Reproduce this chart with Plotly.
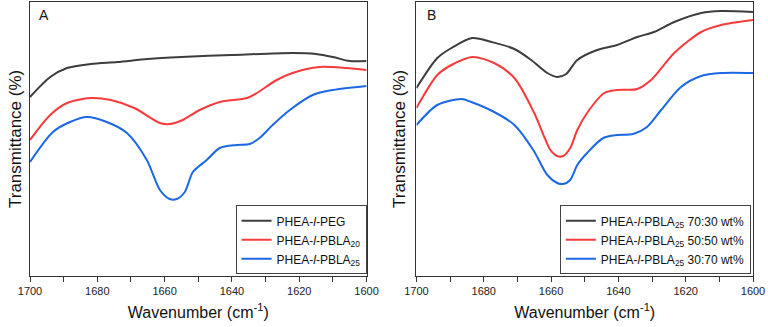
import plotly.graph_objects as go
from plotly.subplots import make_subplots

# panel A
wn_a_peg = [1700, 1694, 1689, 1682, 1674, 1665, 1655, 1640, 1622, 1615, 1610, 1605, 1600]
t_a_peg = [179, 199, 208, 212, 214, 217, 219, 221, 223, 222, 219, 215, 215]

wn_a_20 = [1700, 1694, 1689, 1682, 1676, 1669, 1661.4, 1658.5, 1654.6, 1649.6, 1643.6,
           1635.6, 1632.6, 1626.7, 1622, 1614, 1606, 1600]
t_a_20 = [136, 161, 173, 178, 176, 168, 153, 152, 156, 166, 174, 178, 183, 196, 203, 209, 208, 206]

wn_a_25 = [1700, 1693.2, 1688.1, 1683.1, 1677.2, 1671.2, 1665.3, 1661.4, 1658.5, 1656.4, 1654,
           1651.6, 1647.5, 1643.6, 1638.6, 1634.7, 1631.8, 1627.9, 1622.8, 1616, 1610, 1600]
t_a_25 = [114, 144, 154, 159, 154, 143, 116, 86, 77, 77, 84, 104, 116, 128, 131, 132, 138,
          151, 166, 181, 186, 190]

# panel B
wn_b_7030 = [1700, 1693.8, 1689.6, 1683.4, 1677.7, 1670.9, 1665.9, 1661.1, 1658.2, 1655.5,
             1652.2, 1646.3, 1640.4, 1634.4, 1629.4, 1623.4, 1615.4, 1609.5, 1600]
t_b_7030 = [188, 218, 228, 238, 234, 227, 216, 203, 199, 202, 216, 226, 231, 239, 244, 254,
            263, 265, 264]

wn_b_5050 = [1700, 1693.8, 1689.6, 1683.4, 1676.9, 1670.9, 1665, 1662, 1660.2, 1658.2, 1656.4,
             1654.3, 1652.2, 1649.3, 1644.2, 1640.4, 1634.4, 1630.3, 1623.4, 1615.4, 1609.5, 1600]
t_b_5050 = [168, 201, 211, 219, 213, 198, 163, 139, 126, 120, 120, 128, 146, 163, 183, 186,
            187, 196, 223, 244, 251, 256]

wn_b_3070 = [1700, 1693.8, 1686.6, 1683.7, 1676.9, 1670.9, 1665.3, 1661.1, 1658.2, 1656.4,
             1654.3, 1652.2, 1649.3, 1644.5, 1640.4, 1635.6, 1631.5, 1627.3, 1621.4, 1615.4,
             1609.5, 1600]
t_b_3070 = [151, 171, 177, 174, 164, 151, 126, 101, 93, 92, 96, 111, 123, 138, 141, 142, 149,
            166, 189, 200, 203, 203]

tick_vals = [1700, 1680, 1660, 1640, 1620, 1600]

grey = "#3d3d3d"
red = "#f53b3b"
blue = "#1c68e3"
font = "Arial, Liberation Sans, sans-serif"

fig = make_subplots(rows=1, cols=2, horizontal_spacing=0.069)

line_kw = dict(mode="lines", line_shape="spline")
fig.add_trace(go.Scatter(x=wn_a_peg, y=t_a_peg, name="PHEA-<i>l</i>-PEG",
                         line=dict(color=grey, width=2, smoothing=0.8), legend="legend", **line_kw), 1, 1)
fig.add_trace(go.Scatter(x=wn_a_20, y=t_a_20, name="PHEA-<i>l</i>-PBLA<sub>20</sub>",
                         line=dict(color=red, width=2, smoothing=0.8), legend="legend", **line_kw), 1, 1)
fig.add_trace(go.Scatter(x=wn_a_25, y=t_a_25, name="PHEA-<i>l</i>-PBLA<sub>25</sub>",
                         line=dict(color=blue, width=2, smoothing=0.8), legend="legend", **line_kw), 1, 1)

fig.add_trace(go.Scatter(x=wn_b_7030, y=t_b_7030, name="PHEA-<i>l</i>-PBLA<sub>25</sub> 70:30 wt%",
                         line=dict(color=grey, width=2, smoothing=0.8), legend="legend2", **line_kw), 1, 2)
fig.add_trace(go.Scatter(x=wn_b_5050, y=t_b_5050, name="PHEA-<i>l</i>-PBLA<sub>25</sub> 50:50 wt%",
                         line=dict(color=red, width=2, smoothing=0.8), legend="legend2", **line_kw), 1, 2)
fig.add_trace(go.Scatter(x=wn_b_3070, y=t_b_3070, name="PHEA-<i>l</i>-PBLA<sub>25</sub> 30:70 wt%",
                         line=dict(color=blue, width=2, smoothing=0.8), legend="legend2", **line_kw), 1, 2)

xaxis_kw = dict(range=[1700, 1600], tickvals=tick_vals, ticks="outside", ticklen=5,
                tickcolor="#333", tickfont=dict(size=11, color="#222"),
                minor=dict(dtick=10, ticks="outside", ticklen=5, tickcolor="#333"),
                showline=True, linecolor="#333", linewidth=1, mirror=True, showgrid=False,
                zeroline=False,
                title=dict(text="Wavenumber (cm<sup>-1</sup>)", font=dict(size=16, color="#111"),
                           standoff=10))
yaxis_kw = dict(range=[0, 274], showticklabels=False, ticks="", showline=True, linecolor="#333",
                linewidth=1, mirror=True, showgrid=False, zeroline=False)

fig.update_xaxes(**xaxis_kw)
fig.update_yaxes(**yaxis_kw)

legend_kw = dict(bgcolor="white", bordercolor="#444", borderwidth=1, xanchor="right",
                 yanchor="bottom", font=dict(size=12, color="#111", family=font),
                 tracegroupgap=0, itemwidth=30)

fig.update_layout(
    width=768, height=327,
    margin=dict(l=30, r=15, t=2, b=51),
    paper_bgcolor="white", plot_bgcolor="white",
    font=dict(family=font, color="#111"),
    showlegend=True,
    legend=dict(x=0.4655, y=0.006, **legend_kw),
    legend2=dict(x=0.997, y=0.006, **legend_kw),
    annotations=[
        dict(text="A", xref="x domain", yref="y domain", x=0.022, y=0.953, xanchor="left",
             yanchor="middle", showarrow=False, font=dict(size=14, color="#111")),
        dict(text="B", xref="x2 domain", yref="y2 domain", x=0.025, y=0.953, xanchor="left",
             yanchor="middle", showarrow=False, font=dict(size=14, color="#111")),
        dict(text="Transmittance (%)", xref="paper", yref="paper", x=-0.0207, y=0.5,
             xanchor="center", yanchor="middle",
             textangle=-90, showarrow=False, font=dict(size=17, color="#111")),
        dict(text="Transmittance (%)", xref="paper", yref="paper", x=0.5104, y=0.5,
             xanchor="center", yanchor="middle",
             textangle=-90, showarrow=False, font=dict(size=17, color="#111")),
    ],
)

fig.write_html("out.html", config={"displayModeBar": False},
               post_script="document.body.style.margin='0';")
